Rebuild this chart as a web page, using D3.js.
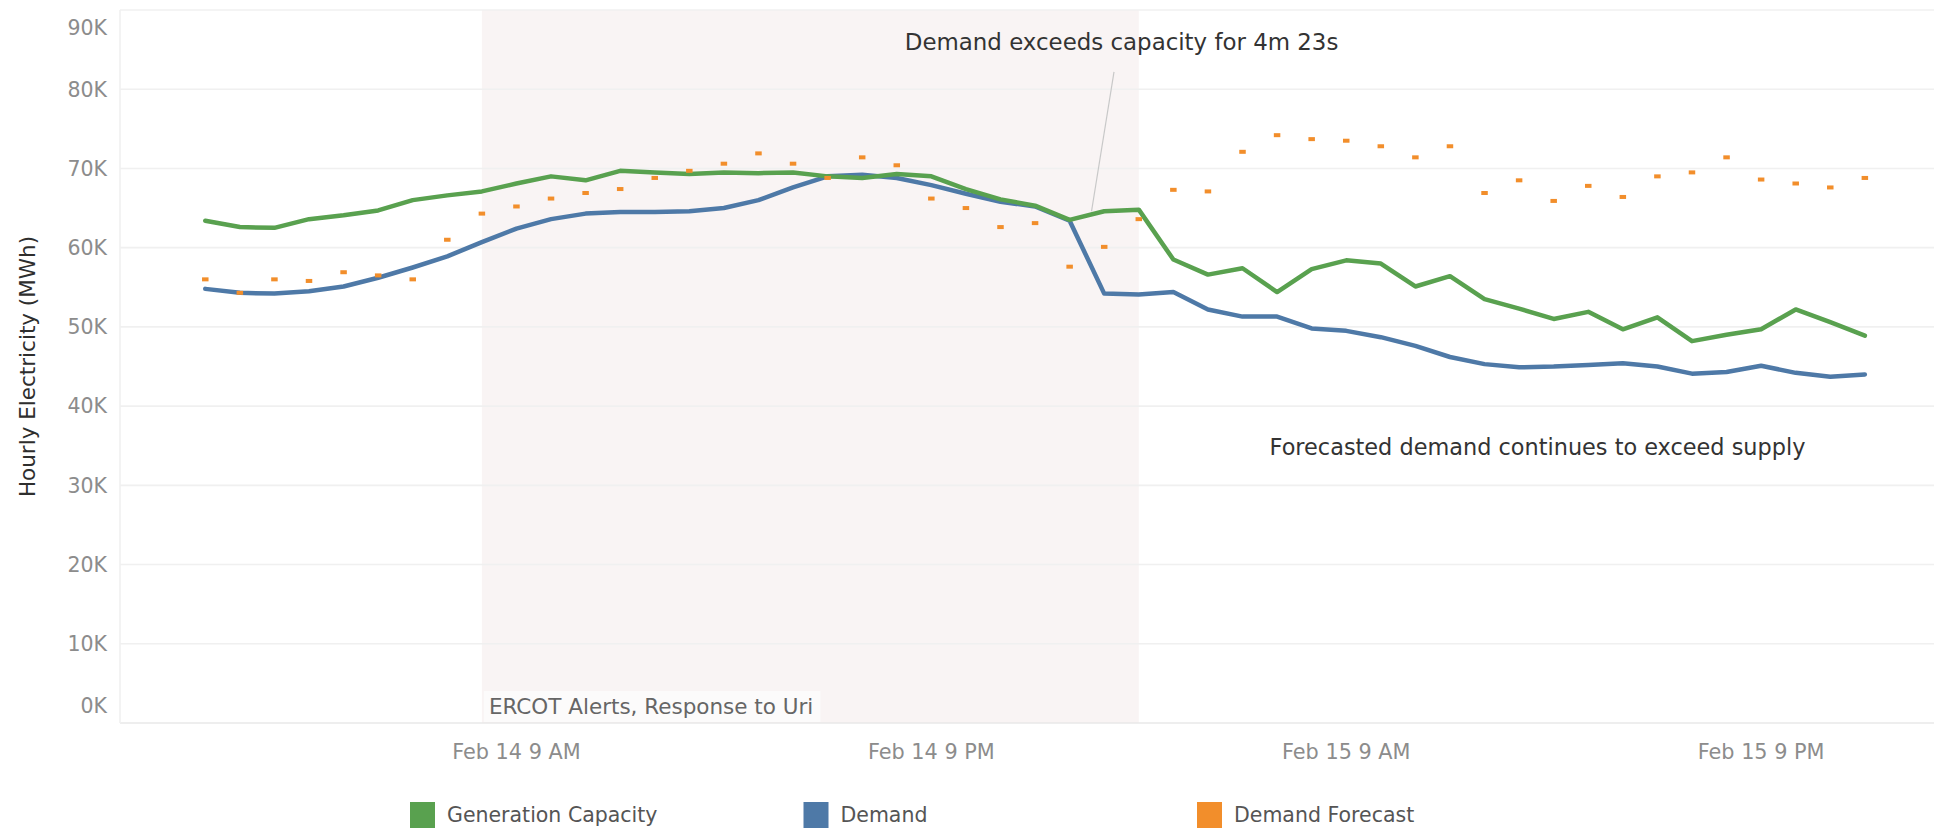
<!DOCTYPE html>
<html>
<head>
<meta charset="utf-8">
<script src="https://cdn.jsdelivr.net/npm/d3@7"></script>
<style>
body { margin: 0; background: #fff; }
text { font-family: "DejaVu Sans", sans-serif; }
</style>
</head>
<body>
<div id="chart"></div>
<script>
  var width = 1934;
  var height = 829;

  // hourly values, Feb 14 00:00 -> Feb 16 00:00 (MWh)
  var startTime = new Date(2021, 1, 14, 0);
  var capacity = [63400, 62600, 62500, 63600, 64100, 64700, 66000, 66600, 67100, 68100, 69000, 68500, 69700,
                  69500, 69300, 69500, 69400, 69500, 69000, 68800, 69300, 69000, 67400, 66100, 65300, 63500, 64600, 64800,
                  58500, 56600, 57400, 54400, 57300, 58400, 58000, 55100, 56400, 53500, 52300, 51000, 51900, 49700, 51200,
                  48200, 49000, 49700, 52200, 50600, 48900];
  var demand = [54800, 54300, 54200, 54500, 55100, 56200, 57500, 58900, 60700, 62400, 63600, 64300, 64500,
                64500, 64600, 65000, 66000, 67600, 69000, 69200, 68800, 67900, 66800, 65800, 65200, 63400, 54200, 54100,
                54400, 52200, 51300, 51300, 49800, 49500, 48700, 47600, 46200, 45300, 44900, 45000, 45200, 45400, 45000,
                44100, 44300, 45100, 44200, 43700, 44000];
  var forecast = [56000, 54300, 56000, 55800, 56900, 56500, 56000, 61000, 64300, 65200, 66200, 66900, 67400,
                  68800, 69700, 70600, 71900, 70600, 68800, 71400, 70400, 66200, 65000, 62600, 63100, 57600, 60100, 63600,
                  67300, 67100, 72100, 74200, 73700, 73500, 72800, 71400, 72800, 66900, 68500, 65900, 67800, 66400, 69000,
                  69500, 71400, 68600, 68100, 67600, 68800];

  var seriesNames = ["Generation Capacity", "Demand", "Demand Forecast"];
  var seriesColors = ["#59a14f", "#4e79a7", "#f28e2b"];

  var yTicks = [0, 10000, 20000, 30000, 40000, 50000, 60000, 70000, 80000, 90000];
  var xTickTimes = [new Date(2021, 1, 14, 9), new Date(2021, 1, 14, 21), new Date(2021, 1, 15, 9), new Date(2021, 1, 15, 21)];
  var xTickLabels = ["Feb 14 9 AM", "Feb 14 9 PM", "Feb 15 9 AM", "Feb 15 9 PM"];

  var alertStart = new Date(2021, 1, 14, 8);
  var alertEnd = new Date(2021, 1, 15, 3);
  var alertLabel = "ERCOT Alerts, Response to Uri";

  var hours = capacity.map(function(d, i) { return d3.timeHour.offset(startTime, i); });

  var svg = d3.select("#chart").append("svg")
              .attr("width", width)
              .attr("height", height);

  var x = d3.scaleTime()
            .domain([d3.timeMinute.offset(startTime, -148), d3.timeHour.offset(startTime, 50)])
            .range([120, width]);
  var y = d3.scaleLinear()
            .domain([0, 90000])
            .range([723, 10]);

  // alert band
  svg.append("rect")
     .attr("x", x(alertStart))
     .attr("y", y(90000))
     .attr("width", x(alertEnd) - x(alertStart))
     .attr("height", y(0) - y(90000))
     .attr("fill", "#f9f4f4");

  // grid lines
  svg.selectAll(".grid")
     .data(yTicks)
     .enter().append("line")
     .attr("x1", 120).attr("x2", width)
     .attr("y1", function(d) { return y(d); })
     .attr("y2", function(d) { return y(d); })
     .style("stroke", function(d) { return d === 0 ? "#e9e9e9" : "#f0f0f0"; })
     .style("stroke-width", 1.6);
  svg.append("line")
     .attr("x1", 120).attr("x2", 120)
     .attr("y1", y(90000)).attr("y2", y(0))
     .style("stroke", "#f0f0f0")
     .style("stroke-width", 1.6);

  // y tick labels (end labels kept inside the pane)
  svg.selectAll(".ylab")
     .data(yTicks)
     .enter().append("text")
     .attr("x", 107)
     .attr("y", function(d) { return Math.min(706, Math.max(28, y(d))); })
     .attr("dy", "0.36em")
     .attr("text-anchor", "end")
     .style("font-size", "20.5px")
     .style("fill", "#8c8c8c")
     .text(function(d) { return (d / 1000) + "K"; });

  svg.append("text")
     .attr("transform", "translate(35," + ((y(0) + y(90000)) / 2) + ") rotate(-90)")
     .attr("text-anchor", "middle")
     .style("font-size", "21.5px")
     .style("fill", "#2e2e2e")
     .text("Hourly Electricity (MWh)");

  // x tick labels
  svg.selectAll(".xlab")
     .data(xTickTimes)
     .enter().append("text")
     .attr("x", function(d) { return x(d); })
     .attr("y", 759)
     .attr("text-anchor", "middle")
     .style("font-size", "20.8px")
     .style("fill", "#8c8c8c")
     .text(function(d, i) { return xTickLabels[i]; });

  // alert label with its light box
  var alertText = svg.append("text")
     .attr("x", x(alertStart) + 7)
     .attr("y", 714)
     .style("font-size", "21.5px")
     .style("fill", "#666")
     .text(alertLabel);
  var bb = alertText.node().getBBox();
  svg.insert("rect", function() { return alertText.node(); })
     .attr("x", x(alertStart) + 2)
     .attr("y", bb.y - 3)
     .attr("width", bb.width + 12)
     .attr("height", y(0) - bb.y + 2)
     .attr("fill", "#fcfbfb");

  // lines
  var line = d3.line()
               .x(function(d, i) { return x(hours[i]); })
               .y(function(d) { return y(d); });

  svg.append("path")
     .datum(demand)
     .attr("d", line)
     .attr("fill", "none")
     .style("stroke", seriesColors[1])
     .style("stroke-width", 4.5)
     .style("stroke-linejoin", "round")
     .style("stroke-linecap", "round");
  svg.append("path")
     .datum(capacity)
     .attr("d", line)
     .attr("fill", "none")
     .style("stroke", seriesColors[0])
     .style("stroke-width", 4.5)
     .style("stroke-linejoin", "round")
     .style("stroke-linecap", "round");

  // forecast dashes
  svg.selectAll(".fc")
     .data(forecast)
     .enter().append("rect")
     .attr("x", function(d, i) { return x(hours[i]) - 3.25; })
     .attr("y", function(d) { return y(d) - 2; })
     .attr("width", 6.5)
     .attr("height", 4)
     .attr("fill", seriesColors[2]);

  // annotations
  var note1 = { tx: d3.timeMinute.offset(startTime, 20 * 60 + 14), tv: 84950,
                lx1: d3.timeMinute.offset(startTime, 26 * 60 + 17), lv1: 82200,
                lx2: d3.timeMinute.offset(startTime, 25 * 60 + 38), lv2: 64600 };
  svg.append("line")
     .attr("x1", x(note1.lx1)).attr("y1", y(note1.lv1))
     .attr("x2", x(note1.lx2)).attr("y2", y(note1.lv2))
     .style("stroke", "#c8c8c8")
     .style("stroke-width", 1.2);
  svg.append("text")
     .attr("x", x(note1.tx))
     .attr("y", y(note1.tv))
     .style("font-size", "22.9px")
     .style("fill", "#333")
     .text("Demand exceeds capacity for 4m 23s");

  svg.append("text")
     .attr("x", x(d3.timeMinute.offset(startTime, 30 * 60 + 47)))
     .attr("y", y(33830))
     .style("font-size", "22.4px")
     .style("fill", "#333")
     .text("Forecasted demand continues to exceed supply");

  // legend
  var legend = svg.selectAll(".legend")
     .data(seriesNames)
     .enter().append("g")
     .attr("transform", function(d, i) { return "translate(" + (410 + i * 393.5) + ",802)"; });
  legend.append("rect")
     .attr("width", 25)
     .attr("height", 26)
     .attr("fill", function(d, i) { return seriesColors[i]; });
  legend.append("text")
     .attr("x", 37)
     .attr("y", 20)
     .style("font-size", "20.5px")
     .style("fill", "#555")
     .text(function(d) { return d; });
</script>
</body>
</html>
